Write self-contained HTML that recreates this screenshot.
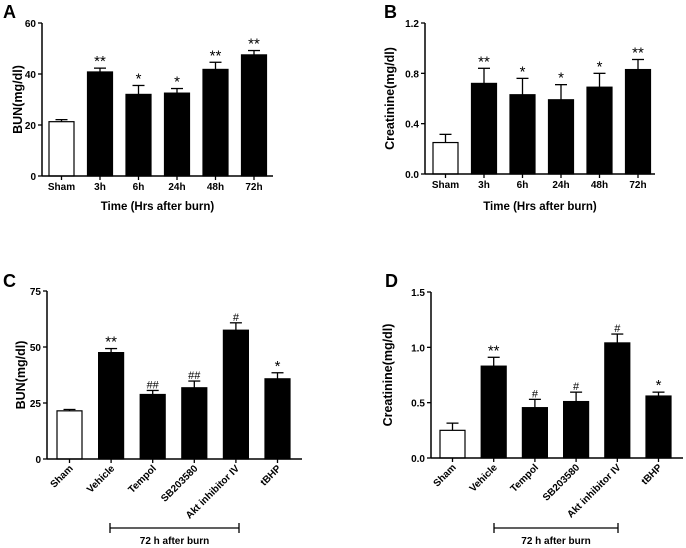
<!DOCTYPE html>
<html><head><meta charset="utf-8"><style>
body{margin:0;background:#fff;}
svg{display:block;font-family:"Liberation Sans",Arial,sans-serif;font-weight:bold;}
</style></head><body>
<svg id="fig" width="686" height="548" viewBox="0 0 686 548" xmlns="http://www.w3.org/2000/svg"></svg>
<script>
const catsTime = ["Sham","3h","6h","24h","48h","72h"];
const catsTreat = ["Sham","Vehicle","Tempol","SB203580","Akt inhibitor IV","tBHP"];
const bunA = [21.3,40.8,32,32.5,41.8,47.5];
const bunAErr = [0.8,1.5,3.5,1.8,2.8,1.7];
const bunASig = ["","**","*","*","**","**"];
const creB = [0.25,0.72,0.63,0.59,0.69,0.83];
const creBErr = [0.065,0.12,0.13,0.12,0.11,0.08];
const creBSig = ["","**","*","*","*","**"];
const bunC = [21.5,47.5,28.8,31.8,57.5,35.8];
const bunCErr = [0.6,1.8,1.8,3.0,3.3,2.7];
const bunCSig = ["","**","##","##","#","*"];
const creD = [0.25,0.83,0.455,0.51,1.04,0.56];
const creDErr = [0.065,0.08,0.075,0.085,0.08,0.035];
const creDSig = ["","**","#","#","#","*"];
const ticksA = [0,20,40,60], ticksB=[0.0,0.4,0.8,1.2], ticksC=[0,25,50,75], ticksD=[0.0,0.5,1.0,1.5];
const NS="http://www.w3.org/2000/svg";
const svg=document.getElementById('fig');
function mk(tag,attrs,parent,text){const e=document.createElementNS(NS,tag);for(const k in attrs)e.setAttribute(k,attrs[k]);if(text!==undefined)e.textContent=text;(parent||svg).appendChild(e);return e;}
function chart(o){
  const g=mk('g',{});
  
  
  const y=v=>o.y0+(o.y1-o.y0)*(v-o.ticks[0])/(o.ticks[o.ticks.length-1]-o.ticks[0]);
  const x=i=>o.bx+o.step*i;
  const t=mk('text',{x:o.lx,y:o.ly,'font-size':18},g,o.letter);
  
  o.vals.forEach((v,i)=>{
    const cx=x(i)+o.bw/2, top=y(v+o.err[i]);
    const el=mk('line',{x1:cx,x2:cx,y1:top,y2:y(v),stroke:'#000','stroke-width':1.3},g);
    
    mk('line',{x1:cx-6,x2:cx+6,y1:top,y2:top,stroke:'#000','stroke-width':1.3},g);
    const r=mk('rect',{x:x(i),y:y(v),width:o.bw,height:y(o.ticks[0])-y(v),fill:i==0?'#fff':'#000',stroke:'#000','stroke-width':1.2},g);
    
    if(o.sig[i]){const s=mk('text',{x:cx,y:top-2,'text-anchor':'middle','font-size':o.sig[i][0]=='#'?11:15,'font-weight':'normal'},g,o.sig[i]);
      }
    mk('line',{x1:cx,x2:cx,y1:y(o.ticks[0]),y2:y(o.ticks[0])+4,stroke:'#000','stroke-width':1.3},g);
    let lab;
    if(o.rot){lab=mk('text',{x:cx+4,y:y(o.ticks[0])+10,'text-anchor':'end','font-size':10,transform:`rotate(-45 ${cx+4} ${y(o.ticks[0])+10})`},g,o.cats[i]);}
    else{lab=mk('text',{x:cx,y:y(o.ticks[0])+14,'text-anchor':'middle','font-size':10},g,o.cats[i]);}
    
  });
  const ya=mk('line',{x1:o.ax,x2:o.ax,y1:y(o.ticks[o.ticks.length-1]),y2:y(o.ticks[0]),stroke:'#000','stroke-width':1.5},g);
  
  const xa=mk('line',{x1:o.ax,x2:o.axEnd,y1:y(o.ticks[0]),y2:y(o.ticks[0]),stroke:'#000','stroke-width':1.5},g);
  
  o.ticks.forEach(tv=>{mk('line',{x1:o.ax-4,x2:o.ax,y1:y(tv),y2:y(tv),stroke:'#000','stroke-width':1.3},g);
    const tl=mk('text',{x:o.ax-6,y:y(tv)+4,'text-anchor':'end','font-size':10},g,o.fmt(tv));
    });
  const yc=(o.y0+o.y1)/2;
  const yt=mk('text',{x:o.ylx,y:yc,'text-anchor':'middle','font-size':12.5,transform:`rotate(-90 ${o.ylx} ${yc})`},g,o.ytitle);
  
  if(o.xtitle){const xt=mk('text',{x:(o.ax+o.axEnd)/2,y:o.xty,'text-anchor':'middle','font-size':11.5},g,o.xtitle);
    }
  if(o.br){const b=mk('g',{},g);
    mk('line',{x1:o.br[0],x2:o.br[1],y1:528,y2:528,stroke:'#000','stroke-width':1.3},b);
    mk('line',{x1:o.br[0],x2:o.br[0],y1:523,y2:533,stroke:'#000','stroke-width':1.3},b);
    mk('line',{x1:o.br[1],x2:o.br[1],y1:523,y2:533,stroke:'#000','stroke-width':1.3},b);
    mk('text',{x:(o.br[0]+o.br[1])/2,y:544,'text-anchor':'middle','font-size':10},b,'72 h after burn');}
}
chart({name:'chart-a-bun-time',letter:'A',lx:3,ly:18,cats:catsTime,vals:bunA,err:bunAErr,sig:bunASig,ticks:ticksA,fmt:v=>v,
  y0:176,y1:23,ax:42,axEnd:273,bx:49,bw:25,step:38.5,ylx:22,ytitle:'BUN(mg/dl)',xtitle:'Time (Hrs after burn)',xty:210});
chart({name:'chart-b-creatinine-time',letter:'B',lx:384,ly:18,cats:catsTime,vals:creB,err:creBErr,sig:creBSig,ticks:ticksB,fmt:v=>v.toFixed(1),
  y0:174,y1:23,ax:425,axEnd:655,bx:433,bw:25,step:38.5,ylx:394,ytitle:'Creatinine(mg/dl)',xtitle:'Time (Hrs after burn)',xty:210});
chart({name:'chart-c-bun-treatment',letter:'C',lx:3,ly:287,cats:catsTreat,vals:bunC,err:bunCErr,sig:bunCSig,ticks:ticksC,fmt:v=>v,rot:true,
  y0:459,y1:291,ax:47,axEnd:302,bx:57,bw:25,step:41.6,ylx:25,ytitle:'BUN(mg/dl)',br:[110,239]});
chart({name:'chart-d-creatinine-treatment',letter:'D',lx:385,ly:287,cats:catsTreat,vals:creD,err:creDErr,sig:creDSig,ticks:ticksD,fmt:v=>v.toFixed(1),rot:true,
  y0:458,y1:292,ax:431,axEnd:683,bx:440,bw:25,step:41.2,ylx:392,ytitle:'Creatinine(mg/dl)',br:[494,618]});
</script>
</body></html>
